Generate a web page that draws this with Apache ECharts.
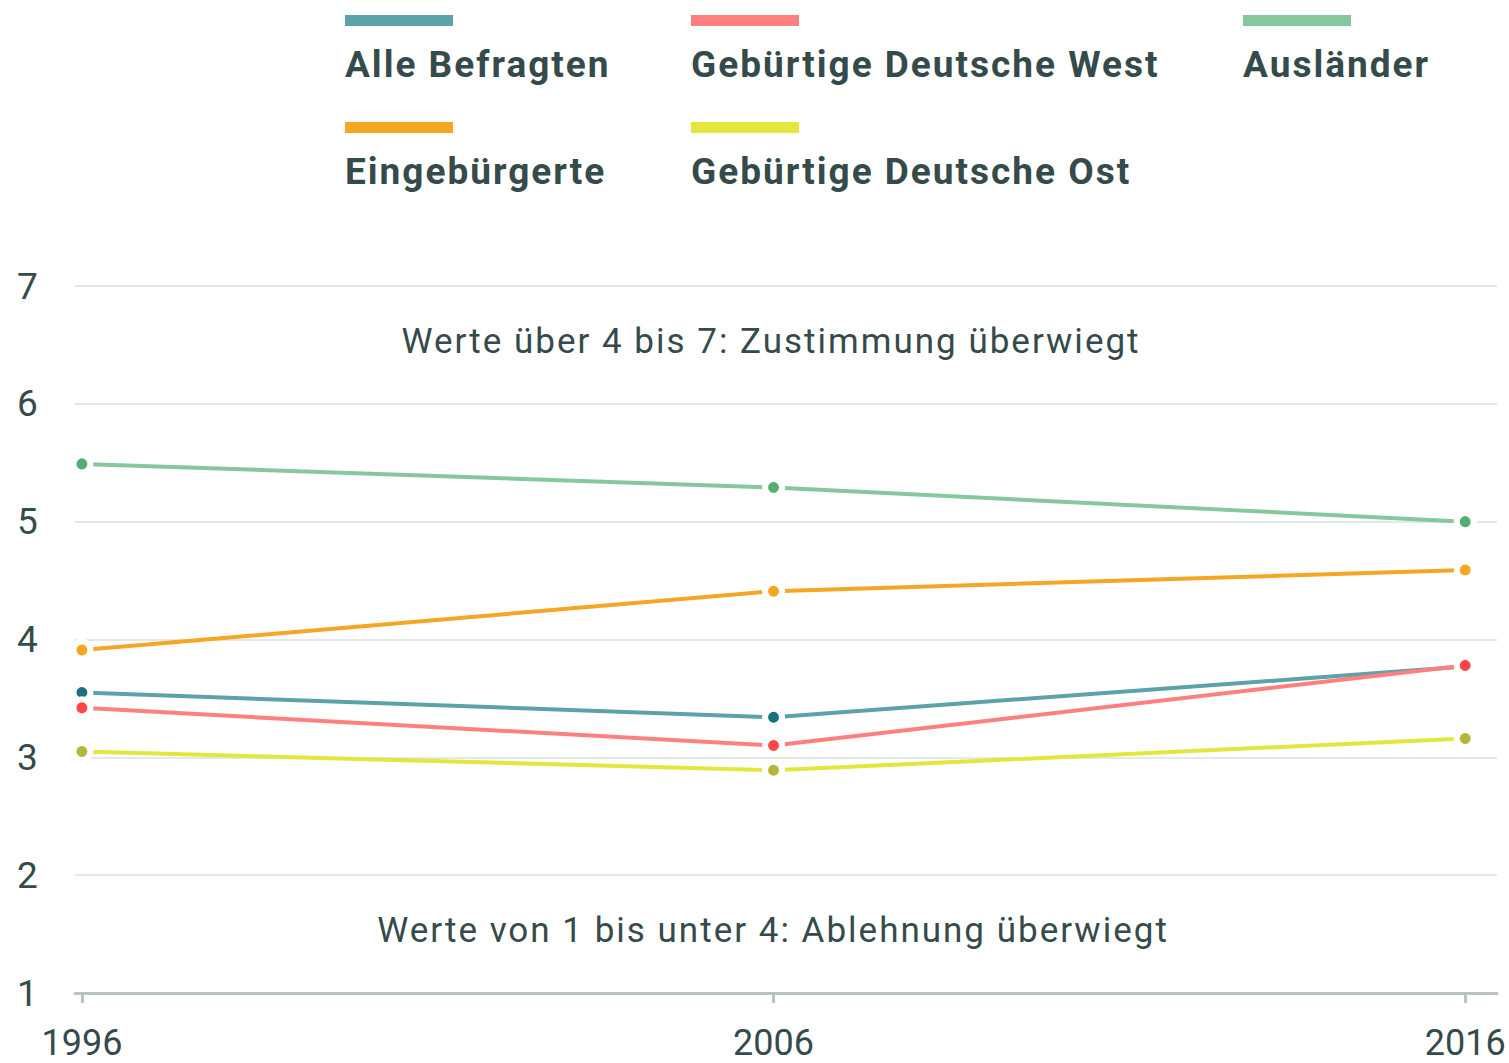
<!DOCTYPE html>
<html><head><meta charset="utf-8">
<script src="https://cdn.jsdelivr.net/npm/echarts@6/dist/echarts.min.js"></script>
<style>html,body{margin:0;padding:0;background:#fff}#c{width:1509px;height:1063px}</style>
</head><body><div id="c"></div>
<script>
const years = [1996, 2006, 2016];
const yTicks = [1, 2, 3, 4, 5, 6, 7];
const seriesNames = ['Alle Befragten', 'Gebürtige Deutsche West', 'Ausländer', 'Eingebürgerte', 'Gebürtige Deutsche Ost'];
const alle = [3.55, 3.34, 3.77];
const west = [3.42, 3.10, 3.78];
const auslaender = [5.49, 5.29, 5.00];
const eingebuergerte = [3.91, 4.41, 4.59];
const ost = [3.05, 2.89, 3.16];
const annotations = ['Werte über 4 bis 7: Zustimmung überwiegt', 'Werte von 1 bis unter 4: Ablehnung überwiegt'];

const lineColors = {'Alle Befragten':'#5ba3a8','Gebürtige Deutsche West':'#ff7f7f','Ausländer':'#87c79d','Eingebürgerte':'#f5a623','Gebürtige Deutsche Ost':'#e3e63d'};
const dotColors = {'Alle Befragten':'#17747e','Gebürtige Deutsche West':'#ff4545','Ausländer':'#55ae70','Eingebürgerte':'#f5a623','Gebürtige Deutsche Ost':'#b5b536'};
const valuesByName = {'Alle Befragten':alle,'Gebürtige Deutsche West':west,'Ausländer':auslaender,'Eingebürgerte':eingebuergerte,'Gebürtige Deutsche Ost':ost};
const drawOrder = ['Ausländer','Eingebürgerte','Alle Befragten','Gebürtige Deutsche West','Gebürtige Deutsche Ost'];
const textColor = '#354b4b';

const series = drawOrder.map((n,i) => ({
  name: n, type: 'line', z: 2+i,
  data: years.map((y,k)=>[y, valuesByName[n][k]]),
  symbol: 'circle', symbolSize: 17, showSymbol: true,
  lineStyle: {color: lineColors[n], width: 4},
  itemStyle: {color: dotColors[n], borderColor: '#fff', borderWidth: 6},
  emphasis: {disabled: true}, animation: false
}));

// legend as graphics (icon bar above label)
const legendPos = [[345,15],[691,15],[1243,15],[345,122],[691,122]];
const graphics = [];
seriesNames.forEach((n,i)=>{
  const [x,y] = legendPos[i];
  graphics.push({type:'rect', left:x, top:y, shape:{width:108,height:11}, style:{fill:lineColors[n]}});
  graphics.push({type:'text', x:x, y:y+49, style:{text:n, fill:textColor, font:'bold 37px Roboto', align:'left', verticalAlign:'middle'}});
});
graphics.push({type:'text', x:771, y:341, style:{text:annotations[0], fill:textColor, font:'35px Roboto', align:'center', verticalAlign:'middle'}});
graphics.push({type:'text', x:773, y:930, style:{text:annotations[1], fill:textColor, font:'35px Roboto', align:'center', verticalAlign:'middle'}});

const chart = echarts.init(document.getElementById('c'), null, {renderer:'svg'});
chart.setOption({
  animation: false,
  backgroundColor: '#fff',
  grid: {left: 75, right: 12, top: 286, bottom: 70, outerBoundsMode: 'none', containLabel: false},
  xAxis: {
    type: 'value', min: 1995.9, max: 2016.46,
    splitLine: {show:false},
    axisLine: {show:true, lineStyle:{color:'#b9c3c3', width:3}},
    axisTick: {show:true, customValues: years, length: 10, lineStyle:{color:'#b9c3c3', width:3}},
    axisLabel: {customValues: years, color: textColor, fontSize: 36, fontFamily:'Roboto', margin: 32, formatter: v=>String(v)}
  },
  yAxis: {
    type: 'value', min: 1, max: 7, interval: 1,
    axisLine: {show:false}, axisTick: {show:false},
    splitLine: {show:true, lineStyle:{color:'#e3e8e8', width:2}},
    axisLabel: {color: textColor, fontSize: 37, fontFamily:'Roboto', align:'left', margin: 58,
      formatter: v => yTicks.includes(v) ? String(v) : ''}
  },
  series: series,
  graphic: graphics
});
// tracking (letter spacing) for legend and annotation text, as in the reference
document.querySelectorAll('#c svg text').forEach(t => {
  const s = t.textContent;
  if (seriesNames.includes(s)) t.setAttribute('letter-spacing', '2');
  else if (annotations.includes(s)) t.setAttribute('letter-spacing', '2');
});
</script></body></html>
